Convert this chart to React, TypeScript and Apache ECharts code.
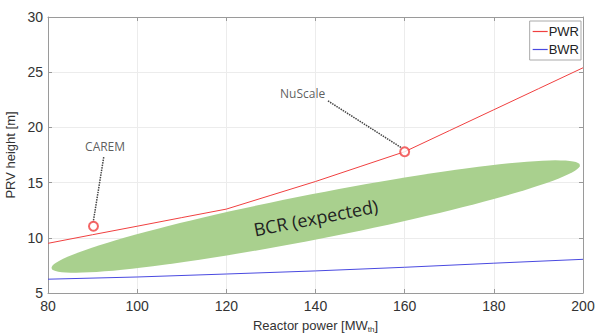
import React, { useEffect, useRef } from "react";
import * as echarts from "echarts";

const xTicks = [80, 100, 120, 140, 160, 180, 200];
const pwrX = [80, 90, 100, 110, 120, 130, 140, 150, 160, 170, 180, 190, 200];
const pwrY = [9.5, 10.28, 11.05, 11.83, 12.6, 13.85, 15.1, 16.45, 17.8, 19.7, 21.6, 23.5, 25.4];
const bwrX = [80, 100, 120, 140, 160, 180, 200];
const bwrY = [6.25, 6.45, 6.72, 7.0, 7.33, 7.7, 8.05];
// ellipse: left tip x, y, right tip x, y, half thickness (y units)
const bcrEllipse = [80.8, 7.25, 199.3, 16.6, 2.05];
const bcrLabel = "BCR (expected)";
const reactorNames = ["CAREM", "NuScale"];
const reactorPoints = [
  [90.2, 11.05],
  [160, 17.8],
];
const reactorLabelPos = [
  [92.8, 18.3],
  [137.1, 23.1],
];
const leaderStart = [
  [92.5, 17.3],
  [142.8, 22.4],
];
const leaderEnd = [
  [90.15, 11.45],
  [159.3, 18.15],
];

export default function App() {
  const ref = useRef<HTMLDivElement>(null);
  useEffect(() => {
    if (!ref.current) return;
    const chart = echarts.init(ref.current, null, { renderer: "svg" });
    const axisCommon = {
      axisLine: { show: true, onZero: false, lineStyle: { color: "#9a9a9a", width: 1 } },
      axisTick: { show: true, inside: true, length: 4, lineStyle: { color: "#9a9a9a" } },
    };
    const font = "Liberation Sans, Arial, sans-serif";
    const series: any[] = [
      {
        type: "custom",
        name: "BCR",
        silent: true,
        z: 1,
        data: [bcrEllipse],
        encode: { x: [0, 2], y: [1, 3] },
        renderItem: (params: any, api: any) => {
          const p1 = api.coord([api.value(0), api.value(1)]);
          const p2 = api.coord([api.value(2), api.value(3)]);
          const q = api.coord([api.value(0), api.value(1) + api.value(4)]);
          const hw = Math.abs(q[1] - p1[1]);
          const cx = (p1[0] + p2[0]) / 2;
          const cy = (p1[1] + p2[1]) / 2;
          const a = Math.hypot(p2[0] - p1[0], p2[1] - p1[1]) / 2;
          const ang = Math.atan2(p2[1] - p1[1], p2[0] - p1[0]);
          const pts: number[][] = [];
          for (let i = 0; i < 120; i++) {
            const t = (i / 120) * Math.PI * 2;
            const ux = a * Math.cos(t);
            const uy = hw * Math.sin(t);
            pts.push([cx + ux * Math.cos(ang) - uy * Math.sin(ang), cy + ux * Math.sin(ang) + uy * Math.cos(ang)]);
          }
          return {
            type: "group",
            children: [
              { type: "polygon", shape: { points: pts }, style: { fill: "#a9d08e" } },
              {
                type: "text",
                x: cx,
                y: cy + 1,
                rotation: -ang,
                style: {
                  text: bcrLabel,
                  fontSize: 18,
                  fontFamily: "Open Sans, Noto Sans, sans-serif",
                  fill: "#222",
                  align: "center",
                  verticalAlign: "middle",
                },
              },
            ],
          };
        },
      },
      {
        type: "line",
        name: "PWR",
        data: pwrX.map((x, i) => [x, pwrY[i]]),
        showSymbol: false,
        symbol: "none",
        lineStyle: { color: "#f04040", width: 1 },
        itemStyle: { color: "#f04040" },
        z: 3,
      },
      {
        type: "line",
        name: "BWR",
        data: bwrX.map((x, i) => [x, bwrY[i]]),
        showSymbol: false,
        symbol: "none",
        lineStyle: { color: "#4a4ae0", width: 1 },
        itemStyle: { color: "#4a4ae0" },
        z: 3,
      },
      ...reactorNames.map((n, i) => ({
        type: "line",
        name: "leader-" + n,
        data: [leaderStart[i], leaderEnd[i]],
        symbol: "none",
        lineStyle: { color: "#444", width: 1.5, type: [1.5, 1] },
        z: 4,
      })),
      {
        type: "scatter",
        name: "reactors",
        data: reactorPoints,
        symbol: "emptyCircle",
        symbolSize: 9,
        itemStyle: { color: "#f04040", borderColor: "#f04040", borderWidth: 1 },
        z: 5,
      },
      {
        type: "scatter",
        name: "labels",
        data: reactorLabelPos.map((p, i) => ({ value: p, name: reactorNames[i] })),
        symbolSize: 0,
        label: {
          show: true,
          position: "inside",
          formatter: (p: any) => p.name,
          fontSize: 12,
          fontFamily: "Open Sans, Noto Sans, sans-serif",
          color: "#333",
        },
        z: 5,
      },
    ];
    chart.setOption({
      animation: false,
      backgroundColor: "#fff",
      grid: { left: 48, right: 18, top: 17, bottom: 40, outerBoundsMode: "none", containLabel: false },
      legend: {
        data: [
          { name: "PWR", icon: "rect" },
          { name: "BWR", icon: "rect" },
        ],
        orient: "vertical",
        right: 20,
        top: 21,
        itemWidth: 15,
        itemHeight: 1.2,
        itemGap: 5,
        padding: [4, 2, 4, 3],
        backgroundColor: "#fff",
        borderColor: "#aaa",
        borderWidth: 1,
        borderRadius: 0,
        textStyle: { fontSize: 13, fontFamily: font, color: "#222", padding: [0, 0, 0, -4] },
      },
      xAxis: [
        {
          type: "value",
          min: 80,
          max: 200,
          interval: 20,
          ...axisCommon,
          splitLine: { show: true, lineStyle: { color: "#ececec" } },
          axisLabel: { fontSize: 14, color: "#333", fontFamily: font, margin: 6 },
          name: "Reactor power [MW{sub|th}]",
          nameLocation: "middle",
          nameGap: 24,
          nameTextStyle: {
            fontSize: 13,
            color: "#333",
            fontFamily: font,
            rich: { sub: { fontSize: 8, color: "#333", fontFamily: font, padding: [8, 0, 0, 0] } },
          },
        },
        {
          type: "value",
          position: "top",
          min: 80,
          max: 200,
          interval: 20,
          ...axisCommon,
          splitLine: { show: false },
          axisLabel: { show: false },
        },
      ],
      yAxis: [
        {
          type: "value",
          min: 5,
          max: 30,
          interval: 5,
          ...axisCommon,
          splitLine: { show: true, lineStyle: { color: "#ececec" } },
          axisLabel: { fontSize: 14, color: "#333", fontFamily: font, margin: 5 },
          name: "PRV height [m]",
          nameLocation: "middle",
          nameGap: 31,
          nameTextStyle: { fontSize: 13, color: "#333", fontFamily: font },
        },
        {
          type: "value",
          position: "right",
          min: 5,
          max: 30,
          interval: 5,
          ...axisCommon,
          splitLine: { show: false },
          axisLabel: { show: false },
        },
      ],
      series,
    });
    return () => chart.dispose();
  }, []);
  return (
    <div
      ref={ref}
      style={{ position: "fixed", left: 0, top: 0, width: 601, height: 333 }}
    />
  );
}
